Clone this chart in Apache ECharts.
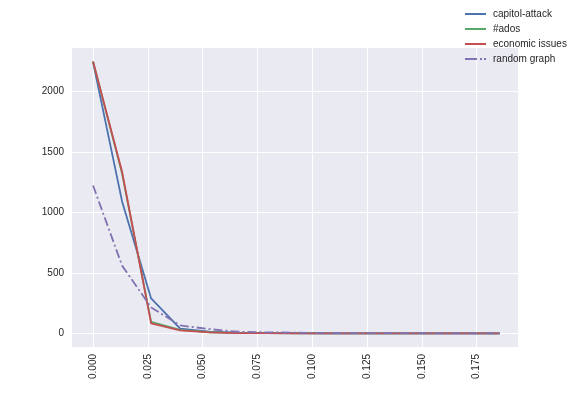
<!DOCTYPE html>
<html>
<head>
<meta charset="utf-8">
<script src="https://cdn.jsdelivr.net/npm/echarts@6/dist/echarts.min.js"></script>
<style>html,body{margin:0;padding:0;background:#fff}#c{width:576px;height:396px}</style>
</head>
<body>
<div id="c"></div>
<script>
const xValues = [0, 0.01325, 0.0265, 0.03975, 0.053, 0.06625, 0.0795, 0.09275, 0.106, 0.11925, 0.1325, 0.14575, 0.159, 0.17225, 0.1855];
const capitolAttack = [2240, 1090, 289, 40, 14, 6, 3, 2, 1, 1, 0, 0, 0, 0, 0];
const ados = [2245, 1320, 95, 30, 10, 4, 2, 1, 1, 0, 0, 0, 0, 0, 0];
const economicIssues = [2245, 1335, 83, 25, 8, 3, 2, 1, 1, 0, 0, 0, 0, 0, 0];
const randomGraph = [1222, 560, 215, 66, 36, 14, 9, 6, 4, 3, 2, 2, 1, 1, 1];
const seriesNames = ['capitol-attack', '#ados', 'economic issues', 'random graph'];
const xTicks = [0, 0.025, 0.05, 0.075, 0.1, 0.125, 0.15, 0.175];
const yTicks = [0, 500, 1000, 1500, 2000];

const colors = ['#4C72B0', '#55A868', '#C44E52', '#8172B2'];
const allData = [capitolAttack, ados, economicIssues, randomGraph];
const pair = arr => arr.map((v, i) => [xValues[i], v]);

const solidIcon = 'path://M0,0h21v2h-21z';
const dashDotIcon = 'path://M0,0h12v2h-12z M15,0h2v2h-2z M19,0h2v2h-2z';

const chart = echarts.init(document.getElementById('c'), null, {renderer: 'canvas'});
const font = '"Liberation Sans", Arial, sans-serif';
chart.setOption({
  animation: false,
  backgroundColor: '#ffffff',
  grid: {left: 72, right: 58, top: 48, bottom: 49, show: true, backgroundColor: '#EAEAF2', borderWidth: 0},
  legend: {
    orient: 'vertical', left: 465, top: 8, padding: 0,
    itemWidth: 21, itemHeight: 2, itemGap: 3,
    textStyle: {fontFamily: font, fontSize: 10, color: '#262626', lineHeight: 12, padding: [0, 0, 0, 2]},
    data: seriesNames.map((n, i) => ({name: n, icon: i === 3 ? dashDotIcon : solidIcon}))
  },
  xAxis: {
    type: 'value', min: -0.0096, max: 0.1939,
    axisLine: {show: false},
    axisTick: {show: false, customValues: xTicks},
    splitLine: {show: true, lineStyle: {color: '#ffffff', width: 1}},
    axisLabel: {
      customValues: xTicks, rotate: 90, margin: 7,
      fontFamily: font, fontSize: 10, color: '#262626',
      formatter: v => v.toFixed(3)
    }
  },
  yAxis: {
    type: 'value', min: -112, max: 2357,
    axisLine: {show: false},
    axisTick: {show: false, customValues: yTicks},
    splitLine: {show: true, lineStyle: {color: '#ffffff', width: 1}},
    axisLabel: {customValues: yTicks, margin: 8, fontFamily: font, fontSize: 10, color: '#262626',
      formatter: v => String(v)}
  },
  series: allData.map((d, i) => ({
    name: seriesNames[i], type: 'line', data: pair(d),
    symbol: 'none', showSymbol: false,
    color: colors[i],
    lineStyle: {color: colors[i], width: 1.8, type: i === 3 ? [9, 3, 2, 3] : 'solid'},
    z: 2 + i
  }))
});
</script>
</body>
</html>
